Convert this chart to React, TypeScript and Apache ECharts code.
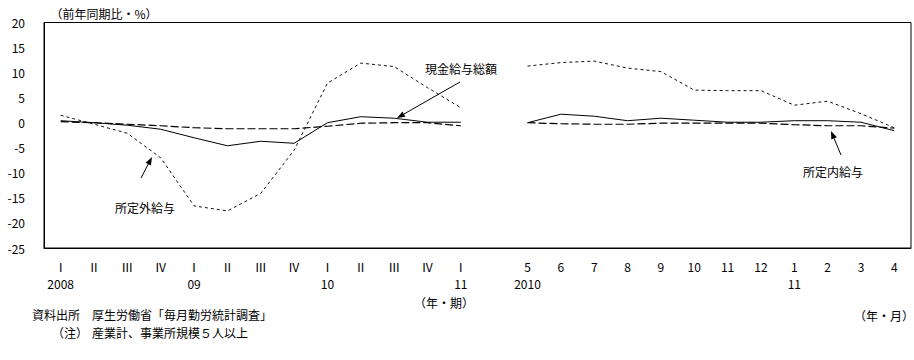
import React, { useEffect, useRef } from "react";
import * as echarts from "echarts";

const quarterLabels = ["Ⅰ", "Ⅱ", "Ⅲ", "Ⅳ", "Ⅰ", "Ⅱ", "Ⅲ", "Ⅳ", "Ⅰ", "Ⅱ", "Ⅲ", "Ⅳ", "Ⅰ"];
const monthLabels = ["5", "6", "7", "8", "9", "10", "11", "12", "1", "2", "3", "4"];
const categories = [...quarterLabels, "", ...monthLabels];
const yearLabels = [
  "2008", "", "", "", "09", "", "", "", "10", "", "", "", "11",
  "",
  "2010", "", "", "", "", "", "", "", "11", "", "", "",
];

// 現金給与総額
const totalCashQ = [0.4, 0, -0.5, -1.3, -3.0, -4.6, -3.7, -4.1, 0, 1.2, 0.9, 0.1, 0.1];
const totalCashM = [0, 1.7, 1.3, 0.4, 0.9, 0.5, 0.1, 0.1, 0.4, 0.4, 0.1, -1.6];
// 所定内給与
const scheduledQ = [0.2, 0, -0.3, -0.6, -1.0, -1.2, -1.2, -1.2, -0.7, -0.1, 0, 0, -0.6];
const scheduledM = [0, -0.2, -0.3, -0.3, -0.1, -0.1, -0.1, -0.1, -0.4, -0.6, -0.6, -1.1];
// 所定外給与
const overtimeQ = [1.5, -0.3, -2.1, -7.0, -16.6, -17.6, -14.1, -5.5, 7.9, 11.9, 11.2, 7.0, 3.0];
const overtimeM = [11.3, 12.0, 12.3, 10.9, 10.2, 6.5, 6.4, 6.4, 3.5, 4.3, 1.8, -1.0];

const join = (q: number[], m: number[]) => [...q, null, ...m];

const FONT = "'Noto Sans CJK JP', 'Noto Sans', sans-serif";

function arrow(x1: number, y1: number, x2: number, y2: number) {
  const dx = x2 - x1;
  const dy = y2 - y1;
  const len = Math.sqrt(dx * dx + dy * dy);
  const ux = dx / len;
  const uy = dy / len;
  const hl = 8;
  const hw = 3;
  const bx = x2 - ux * hl;
  const by = y2 - uy * hl;
  return [
    {
      type: "line",
      shape: { x1, y1, x2: bx, y2: by },
      style: { stroke: "#000", lineWidth: 1 },
      silent: true,
    },
    {
      type: "polygon",
      shape: {
        points: [
          [x2, y2],
          [bx - uy * hw, by + ux * hw],
          [bx + uy * hw, by - ux * hw],
        ],
      },
      style: { fill: "#000" },
      silent: true,
    },
  ];
}

function txt(x: number, y: number, text: string, align: string = "left") {
  return {
    type: "text",
    x,
    y,
    style: {
      text,
      fill: "#000",
      font: `12px ${FONT}`,
      lineHeight: 13,
      textAlign: align,
      textVerticalAlign: "middle",
    },
    silent: true,
  };
}

export default function App() {
  const ref = useRef<HTMLDivElement>(null);
  useEffect(() => {
    if (!ref.current) return;
    const chart = echarts.init(ref.current, null, { renderer: "svg" });
    chart.setOption({
      animation: false,
      backgroundColor: "#fff",
      grid: {
        left: 44,
        right: 3,
        top: 22.5,
        bottom: 112,
        show: true,
        borderColor: "#000",
        borderWidth: 1,
        backgroundColor: "transparent",
      },
      xAxis: {
        type: "category",
        data: categories,
        boundaryGap: true,
        axisLine: { show: true, onZero: false, lineStyle: { color: "#000", width: 1 } },
        axisTick: { show: false },
        splitLine: { show: false },
        axisLabel: {
          interval: 0,
          margin: 10,
          color: "#000",
          fontSize: 12,
          fontFamily: FONT,
          lineHeight: 17,
          formatter: (v: string, i: number) => `${v}\n${yearLabels[i]}`,
        },
      },
      yAxis: {
        type: "value",
        min: -25,
        max: 20,
        interval: 5,
        axisLine: { show: true, lineStyle: { color: "#000", width: 1 } },
        axisTick: { show: false },
        splitLine: { show: false },
        axisLabel: {
          margin: 19,
          color: "#000",
          fontSize: 12,
          fontFamily: FONT,
        },
      },
      series: [
        {
          name: "現金給与総額",
          type: "line",
          data: join(totalCashQ, totalCashM),
          symbol: "none",
          lineStyle: { color: "#000", width: 1, type: "solid" },
          connectNulls: false,
          z: 3,
        },
        {
          name: "所定内給与",
          type: "line",
          data: join(scheduledQ, scheduledM),
          symbol: "none",
          lineStyle: { color: "#000", width: 1.2, type: [8, 3] },
          connectNulls: false,
          z: 2,
        },
        {
          name: "所定外給与",
          type: "line",
          data: join(overtimeQ, overtimeM),
          symbol: "none",
          lineStyle: { color: "#111", width: 1, type: [3, 3] },
          connectNulls: false,
          z: 2,
        },
      ],
      graphic: [
        txt(104, 13, "（前年同期比・%）", "center"),
        txt(425, 68, "現金給与総額"),
        ...arrow(460, 82, 397, 118),
        txt(115, 207, "所定外給与"),
        ...arrow(141, 178, 152, 157),
        txt(803, 171, "所定内給与"),
        ...arrow(841, 155, 831, 131),
        txt(444, 302, "（年・期）", "center"),
        txt(884, 315, "（年・月）", "center"),
        txt(32, 314, "資料出所　厚生労働省「毎月勤労統計調査」"),
        txt(70, 332, "（注）", "center"),
        txt(92, 332, "産業計、事業所規模５人以上"),
      ],
    });
    return () => chart.dispose();
  }, []);
  return (
    <div
      ref={ref}
      style={{ position: "fixed", left: 0, top: 0, width: 914, height: 360, background: "#fff" }}
    />
  );
}
